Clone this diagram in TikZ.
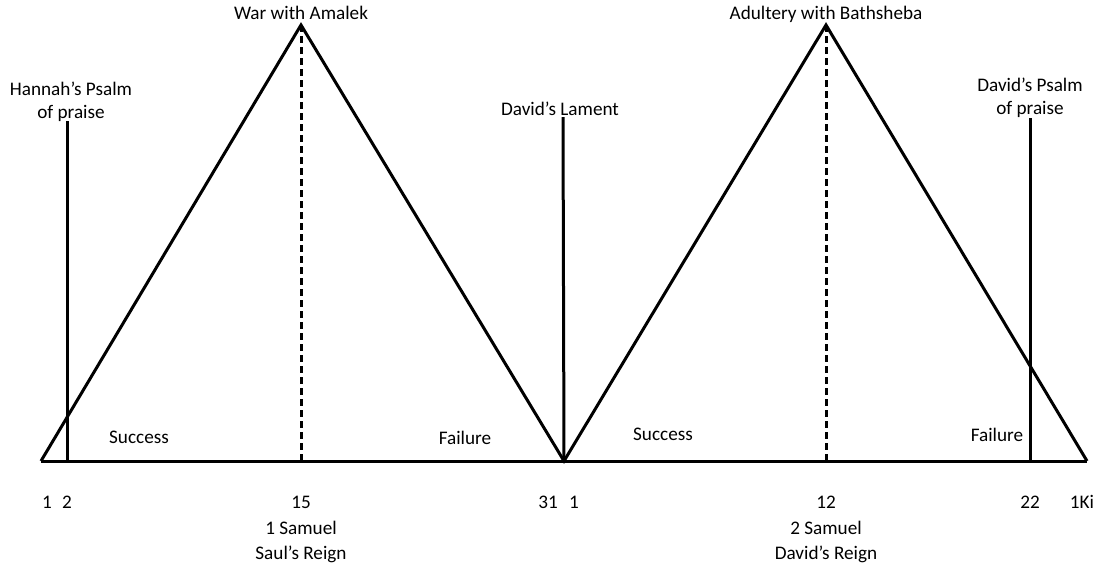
\documentclass[tikz,border=0pt]{standalone}
\usepackage{fontspec}
\setmainfont{Carlito}
\usetikzlibrary{positioning}

\begin{document}
\begin{tikzpicture}[x=1pt, y=-1pt, line width=3pt,
		txt/.style={inner sep=0pt, anchor=base, align=center, font=\fontsize{19.2}{22.5}\selectfont},
		mark line/.style={dash pattern=on 7pt off 4pt}]
		\useasboundingbox (0,0) rectangle (1102,571);
		\coordinate (start) at (41,461);
		\coordinate (saul) at (301,25);
		\coordinate (mid) at (564,461);
		\coordinate (david) at (826,25);
		\coordinate (end) at (1087,461);
		\coordinate (b2) at (67,461);
		\coordinate (b15) at (301,461);
		\coordinate (b12) at (826,461);
		\coordinate (b22) at (1030,461);
		\coordinate (hannahtop) at (67,121);
		\coordinate (lamenttop) at (563,117);
		\coordinate (psalmtop) at (1030,118);
		
		\draw (start) -- (end);
		\draw[line join=miter] (start) -- (saul) -- (mid) -- (david) -- (end);
		\draw[mark line] (saul) -- (b15);
		\draw[mark line] (david) -- (b12);
		\draw (hannahtop) -- (b2);
		\draw (lamenttop) -- (mid);
		\draw (psalmtop) -- (b22);
		
		\node[txt] (amalek) at (301,19) {War with Amalek};
		\node[txt] (bathsheba) at (826,19) {Adultery with Bathsheba};
		\node[txt] (hannah) at (71,118) {Hannah’s Psalm\\of praise};
		\node[txt] (lament) at (560,115) {David’s Lament};
		\node[txt] (psalm) at (1030,114) {David’s Psalm\\of praise};
		
		\node[txt] (success1) at (139,443) {Success};
		\node[txt] (failure1) at (465,444) {Failure};
		\node[txt] (success2) at (663,440) {Success};
		\node[txt] (failure2) at (997,441) {Failure};
		
		\node[txt] (n1) at (47,508) {1};
		\node[txt] (n2) at (67,508) {2};
		\node[txt] (n15) at (301,508) {15};
		\node[txt] (n31) at (548,508) {31};
		\node[txt] (m1) at (574,508) {1};
		\node[txt] (n12) at (826,508) {12};
		\node[txt] (n22) at (1030,508) {22};
		\node[txt] (kings) at (1082,508) {1Ki};
		
		\node[txt, font=\fontsize{19.2}{25}\selectfont] (samuel1) at (301,559) {1 Samuel\\Saul’s Reign};
		\node[txt, font=\fontsize{19.2}{25}\selectfont] (samuel2) at (826,559) {2 Samuel\\David’s Reign};
	\end{tikzpicture}
\end{document}
